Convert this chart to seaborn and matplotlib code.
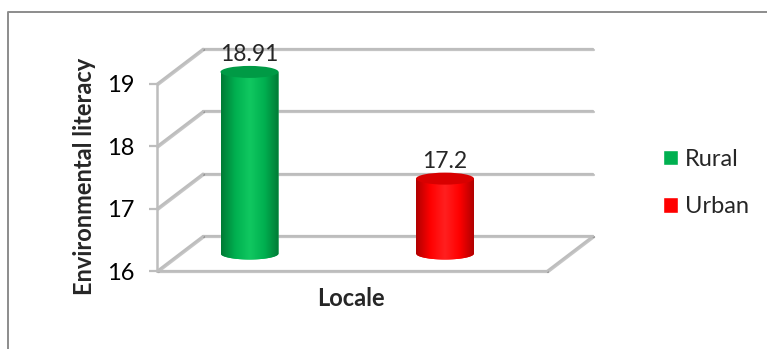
import numpy as np
import pandas as pd
import matplotlib
matplotlib.use("Agg")
import matplotlib.pyplot as plt
import matplotlib.transforms as mtransforms
import matplotlib.patheffects as pe
from matplotlib.patches import Ellipse, Polygon
from matplotlib.colors import LinearSegmentedColormap
from matplotlib.lines import Line2D
import seaborn as sns

# ---- data -------------------------------------------------------------
locales = ["Rural", "Urban"]
literacy = [18.91, 17.2]
value_labels = ["18.91", "17.2"]
y_ticks = [16, 17, 18, 19]

# ---- styling ----------------------------------------------------------
base_colors = {"Rural": "#00b050", "Urban": "#ff0000"}
edge_colors = {"Rural": "#007a35", "Urban": "#b00000"}
light_colors = {"Rural": "#10c860", "Urban": "#ff2020"}
top_colors = {"Rural": "#009a45", "Urban": "#d80000"}
grid_color = "#bdbdbd"
frame_color = "#8c8c8c"

W, H = 767, 349
sns.set_theme(style="white")
plt.rcParams["font.family"] = ["Lato", "DejaVu Sans"]

df = pd.DataFrame({"Locale": locales, "Literacy": literacy})

fig = plt.figure(figsize=(W / 100, H / 100), dpi=100)

# pseudo-3D geometry (pixels)
px_unit = 62.4          # pixels per literacy point
px_cat = 195.5          # pixels between the two categories
depth_x, depth_y = 46, 35
front_left, front_base, front_w = 157, 271, 390
ymin, ymax = y_ticks[0], y_ticks[-1]
xmin = -(226.5 - front_left) / px_cat
xmax = xmin + front_w / px_cat
front_h = (ymax - ymin) * px_unit

# front plane axes: holds the value axis, the walls and the floor
ax = fig.add_axes([front_left / W, (H - front_base) / H, front_w / W, front_h / H])
ax.set_xlim(xmin, xmax)
ax.set_ylim(ymin, ymax)
ax.patch.set_alpha(0)
for side in ["top", "right", "bottom"]:
    ax.spines[side].set_visible(False)
ax.spines["left"].set_color(grid_color)
ax.spines["left"].set_linewidth(1.8)
ax.set_xticks([])
ax.set_yticks(y_ticks)
ax.tick_params(axis="y", left=True, length=6, width=1.6, color=grid_color,
               pad=10, labelsize=17, labelcolor="black")

shadow = [pe.SimpleLineShadow(offset=(0.8, -0.8), alpha=0.25), pe.Normal()]
dxd, dyd = depth_x / px_cat, depth_y / px_unit
back = ax.transData + mtransforms.ScaledTranslation(depth_x / 100, depth_y / 100,
                                                    fig.dpi_scale_trans)
line_kw = dict(color=grid_color, lw=1.6, clip_on=False, path_effects=shadow,
               solid_capstyle="round")
for t in y_ticks:
    # back wall gridline
    ax.plot([xmin, xmax], [t, t], transform=back, **line_kw)
    # side wall diagonal
    ax.plot([xmin, xmin + dxd], [t, t + dyd], **line_kw)
# floor: front edge and right-hand diagonal
ax.plot([xmin, xmax], [ymin, ymin], **line_kw)
ax.plot([xmax, xmax + dxd], [ymin, ymin + dyd], **line_kw)

# mid-depth axes: holds the cylinders
mid_lo, mid_hi = 15.7, 19.3
mid_bottom_px = front_base - depth_y / 2 + (ymin - mid_lo) * px_unit
mid_h = (mid_hi - mid_lo) * px_unit
ax2 = fig.add_axes([(front_left + depth_x / 2) / W, (H - mid_bottom_px) / H,
                    front_w / W, mid_h / H])
ax2.patch.set_alpha(0)
bar_w = 58 / px_cat
sns.barplot(data=df, x="Locale", y="Literacy", hue="Locale", palette=base_colors,
            width=bar_w, ax=ax2, saturation=1, legend=True)
ax2.set_axis_off()

ell_h = 12 / px_unit
for cont, loc, lab in zip(ax2.containers, locales, value_labels):
    bar = cont.patches[0]
    x0, w, val = bar.get_x(), bar.get_width(), bar.get_height()
    cx = x0 + w / 2
    theta = np.linspace(np.pi, 2 * np.pi, 80)
    arc = np.column_stack([cx + w / 2 * np.cos(theta), ymin + ell_h / 2 * np.sin(theta)])
    verts = np.vstack([[x0, val], arc, [x0 + w, val]])
    body = Polygon(verts, closed=True, transform=ax2.transData)
    bar.set_clip_path(body)
    cmap = LinearSegmentedColormap.from_list(
        loc, [edge_colors[loc], base_colors[loc], light_colors[loc],
              base_colors[loc], edge_colors[loc]])
    grad = np.linspace(0, 1, 256).reshape(1, -1)
    ax2.imshow(grad, cmap=cmap, extent=[x0, x0 + w, ymin - ell_h, val],
               aspect="auto", interpolation="bicubic", zorder=2, clip_path=body)
    ax2.add_patch(Ellipse((cx, val), w, ell_h, facecolor=top_colors[loc],
                          edgecolor="none", zorder=3, clip_on=False))
    ax2.bar_label(cont, labels=[lab], padding=5, fontsize=16.5, clip_on=False)

ax2.set_xlim(xmin, xmax)
ax2.set_ylim(mid_lo, mid_hi)

handles, labels = ax2.get_legend_handles_labels()
ax2.get_legend().remove()
fig.legend(handles, labels, loc="center left", bbox_to_anchor=(663 / W, 1 - 183 / H),
           frameon=False, fontsize=17, handlelength=0.62, handleheight=0.62,
           handletextpad=0.3, labelspacing=1.12, borderpad=0, borderaxespad=0)

ax.set_ylabel("Environmental literacy", fontsize=17, fontweight="bold")
ax.yaxis.set_label_coords(96 / W, 1 - 176 / H, transform=fig.transFigure)
ax.set_xlabel("Locale", fontsize=17, fontweight="bold")
ax.xaxis.set_label_coords(351 / W, 1 - 287 / H, transform=fig.transFigure)

# chart frame (top and left edges)
fig.add_artist(Line2D([8 / W, 8 / W, 1], [0, 1 - 12 / H, 1 - 12 / H],
                      transform=fig.transFigure, color=frame_color, lw=1.4))

fig.savefig("out.png", dpi=100)
